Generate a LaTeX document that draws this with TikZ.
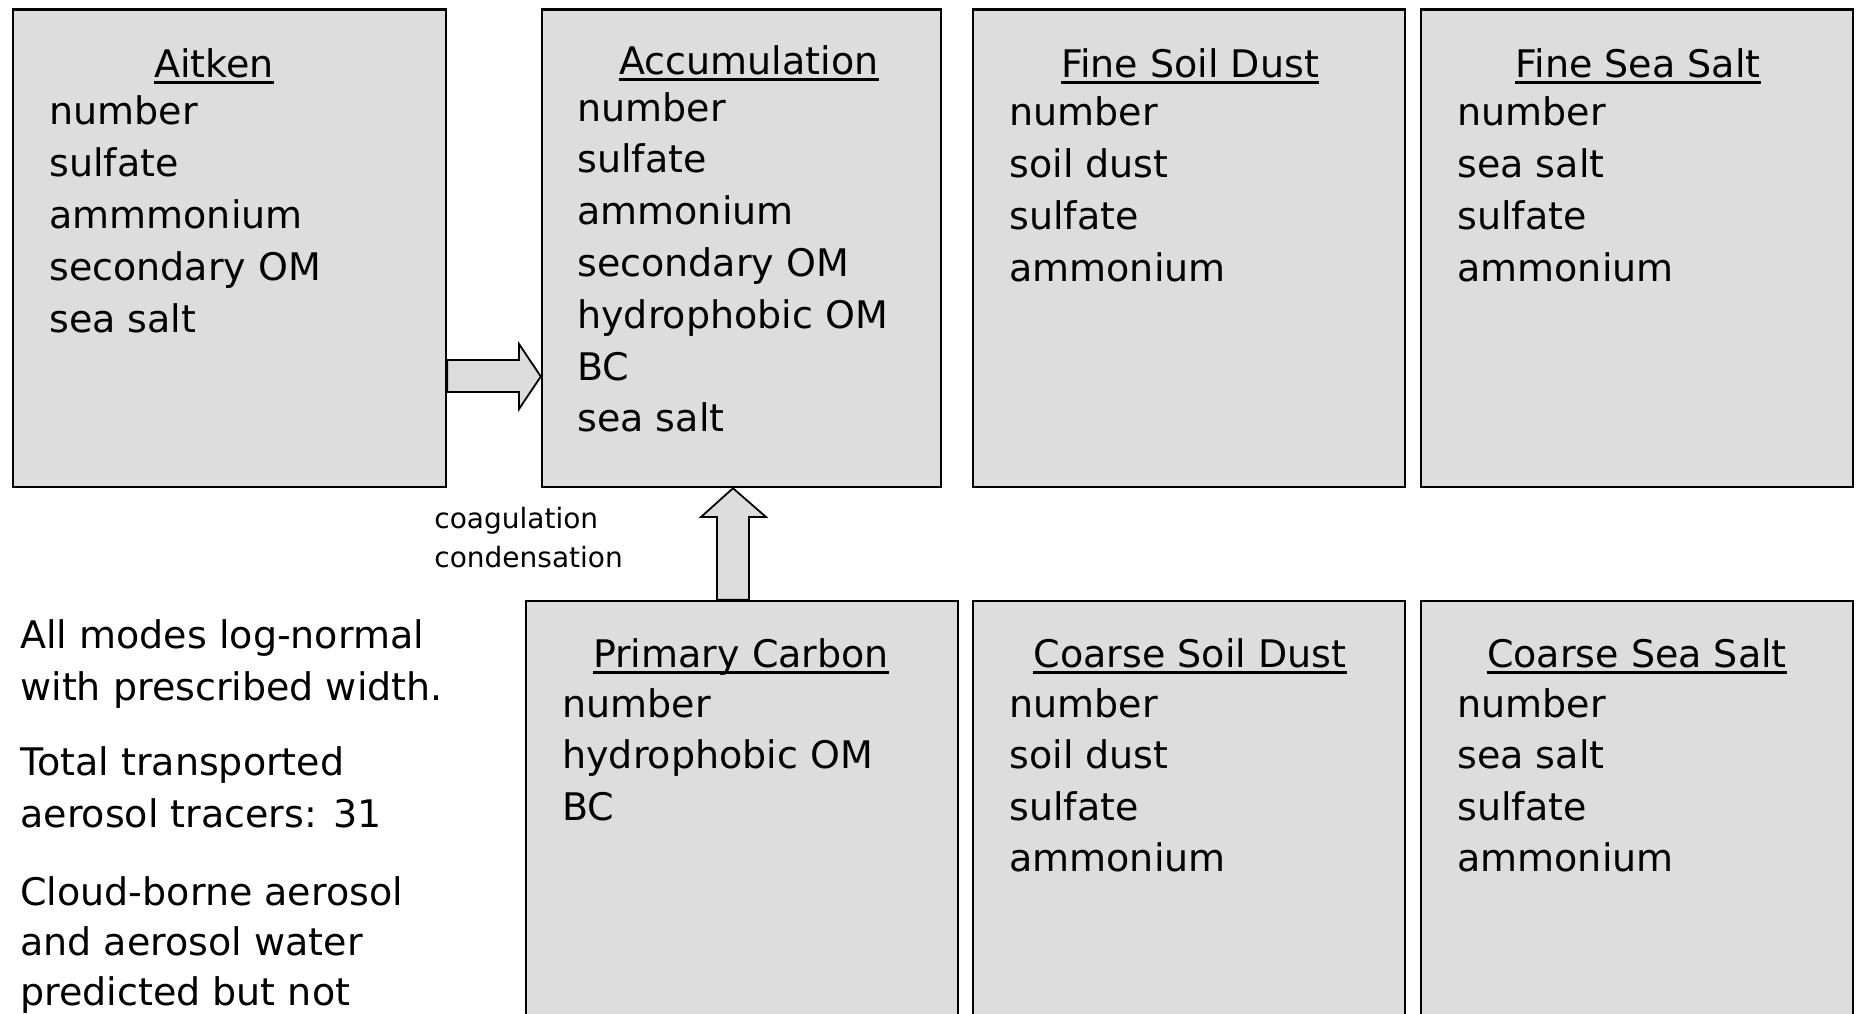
\documentclass[tikz,border=0pt]{standalone}
\usepackage{fontspec}
\setmainfont{DejaVu Sans}
\usetikzlibrary{fit,calc}
\definecolor{boxgray}{RGB}{221,221,221}
\tikzset{
  box/.style={draw=black, fill=boxgray, line width=1.2pt, inner sep=0pt},
  ttl/.style={inner sep=0pt, anchor=base, font=\fontsize{19}{23}\selectfont},
  itm/.style={inner sep=0pt, anchor=base west, font=\fontsize{19}{23}\selectfont},
  lbl/.style={inner sep=0pt, anchor=base west, font=\fontsize{14}{17}\selectfont},
  uline/.style={line width=1.4pt},
  blockarrow/.style={draw=black, fill=boxgray, line width=0.9pt, line join=miter},
}
\newcommand\ulin[1]{\draw[uline] ([yshift=-2.8pt]#1.base west) -- ([yshift=-2.8pt]#1.base east);}
\begin{document}
\begin{tikzpicture}[x=0.5pt,y=-0.5pt]
\useasboundingbox (0,0) rectangle (1859,1013);
\fill[white] (0,0) rectangle (1859,1013);
\clip (0,0) rectangle (1859,1013);

% boxes
\node[box, fit={(13,9.5) (446,487)}] (aitken) {};
\node[box, fit={(542,9.5) (941,487)}] (accum) {};
\node[box, fit={(973,9.5) (1405,487)}] (fdust) {};
\node[box, fit={(1421,9.5) (1853,487)}] (fsalt) {};
\node[box, fit={(526,601) (958,1040)}] (prim) {};
\node[box, fit={(973,601) (1405,1040)}] (cdust) {};
\node[box, fit={(1421,601) (1853,1040)}] (csalt) {};

% block arrows
\draw[blockarrow] (aitken.east |- 0,360) -- (519,360) -- (519,344)
  -- (accum.west |- 0,376.5) -- (519,409) -- (519,392)
  -- (aitken.east |- 0,392) -- cycle;
\draw[blockarrow] (717,0 |- prim.north) -- (717,517) -- (701,517)
  -- (733,0 |- accum.south) -- (766,517) -- (749,517)
  -- (749,0 |- prim.north) -- cycle;

% titles
\node[ttl] (tait) at (214,77) {Aitken}; \ulin{tait}
\node[ttl] (tacc) at (749,74) {Accumulation}; \ulin{tacc}
\node[ttl] (tfd) at (1190,77) {Fine Soil Dust}; \ulin{tfd}
\node[ttl] (tfs) at (1638,77) {Fine Sea Salt}; \ulin{tfs}
\node[ttl] (tpc) at (741,667) {Primary Carbon}; \ulin{tpc}
\node[ttl] (tcd) at (1190,667) {Coarse Soil Dust}; \ulin{tcd}
\node[ttl] (tcs) at (1637,667) {Coarse Sea Salt}; \ulin{tcs}

% lists
\foreach \t [count=\i] in {number,sulfate,ammmonium,secondary OM,sea salt}
  \node[itm] (ait\i) at (49,{124+52*(\i-1)}) {\t};
\foreach \t [count=\i] in {number,sulfate,ammonium,secondary OM,hydrophobic OM,BC,sea salt}
  \node[itm] (acc\i) at (577,{121+51.8*(\i-1)}) {\t};
\foreach \t [count=\i] in {number,soil dust,sulfate,ammonium}
  \node[itm] (fd\i) at (1009,{125+52*(\i-1)}) {\t};
\foreach \t [count=\i] in {number,sea salt,sulfate,ammonium}
  \node[itm] (fs\i) at (1457,{125+52*(\i-1)}) {\t};
\foreach \t [count=\i] in {number,hydrophobic OM,BC}
  \node[itm] (pc\i) at (562,{717+51.6*(\i-1)}) {\t};
\foreach \t [count=\i] in {number,soil dust,sulfate,ammonium}
  \node[itm] (cd\i) at (1009,{717+51.6*(\i-1)}) {\t};
\foreach \t [count=\i] in {number,sea salt,sulfate,ammonium}
  \node[itm] (cs\i) at (1457,{717+51.6*(\i-1)}) {\t};

% process label
\node[lbl] (coag) at (434,528) {coagulation};
\node[lbl] (cond) at (434,567) {condensation};

% notes
\node[itm] (n1) at (20,648) {All modes log-normal};
\node[itm] (n2) at (20,700) {with prescribed width.};
\node[itm] (n3) at (20,775) {Total transported};
\node[itm] (n4) at (20,827) {aerosol tracers: 31};
\node[itm] (n5) at (20,905) {Cloud-borne aerosol};
\node[itm] (n6) at (20,955) {and aerosol water};
\node[itm] (n7) at (20,1005) {predicted but not};
\end{tikzpicture}
\end{document}
